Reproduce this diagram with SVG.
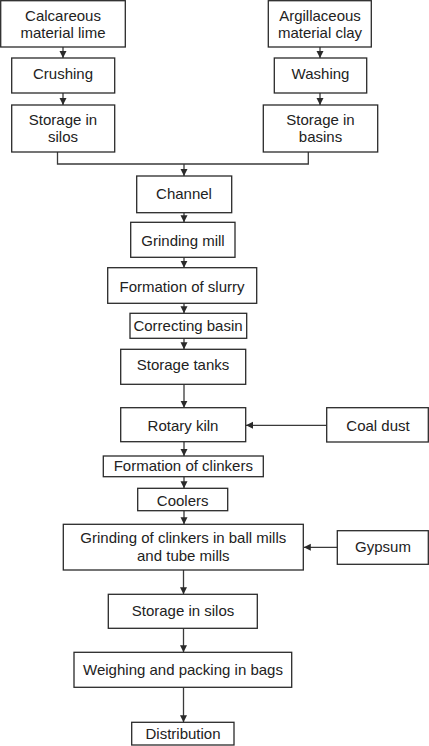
<svg xmlns="http://www.w3.org/2000/svg" width="429" height="746" viewBox="0 0 429 746">
<defs>
<style>
rect{fill:#fff;stroke:#2a2a2a;stroke-width:1.3}
text{font-family:"Liberation Sans",Arial,sans-serif;font-size:15px;fill:#222;text-anchor:middle}
.c{fill:none;stroke:#3a3a3a;stroke-width:1.3}
</style>
<marker id="ah" markerUnits="userSpaceOnUse" markerWidth="8" markerHeight="8" refX="7" refY="3.5" orient="auto">
<path d="M0,0 L7,3.5 L0,7 z" fill="#2a2a2a"/>
</marker>
</defs>
<rect x="0" y="0" width="429" height="746" style="fill:#fff;stroke:none"/>
<g id="connectors">
<path class="c" d="M63,47 V58" marker-end="url(#ah)"/>
<path class="c" d="M63,93 V105" marker-end="url(#ah)"/>
<path class="c" d="M320,47 V58" marker-end="url(#ah)"/>
<path class="c" d="M320,93 V105" marker-end="url(#ah)"/>
<path class="c" d="M57.5,152 V164 H308.3 V152"/>
<path class="c" d="M184,164 V176" marker-end="url(#ah)"/>
<path class="c" d="M184,212.7 V222.3" marker-end="url(#ah)"/>
<path class="c" d="M184,257.3 V267.7" marker-end="url(#ah)"/>
<path class="c" d="M184,303.3 V313.3" marker-end="url(#ah)"/>
<path class="c" d="M184,338.3 V349.3" marker-end="url(#ah)"/>
<path class="c" d="M184,384.3 V407.7" marker-end="url(#ah)"/>
<path class="c" d="M326.7,425.3 H246" marker-end="url(#ah)"/>
<path class="c" d="M184,441.7 V456" marker-end="url(#ah)"/>
<path class="c" d="M184,476.7 V488.3" marker-end="url(#ah)"/>
<path class="c" d="M184,510.7 V524.3" marker-end="url(#ah)"/>
<path class="c" d="M337.3,547.3 H303.8" marker-end="url(#ah)"/>
<path class="c" d="M183.5,570 V594.3" marker-end="url(#ah)"/>
<path class="c" d="M183.5,628.3 V652.3" marker-end="url(#ah)"/>
<path class="c" d="M183.5,687.3 V722.3" marker-end="url(#ah)"/>
</g>
<g id="calcareous"><rect x="0.7" y="0.7" width="124.6" height="46.3"/><text x="63" y="20.5">Calcareous</text><text x="63" y="37.5">material lime</text></g>
<g id="crushing"><rect x="11.7" y="58" width="103" height="35"/><text x="63" y="78.5">Crushing</text></g>
<g id="storage-silos-left"><rect x="11.7" y="105" width="103" height="47"/><text x="63" y="125">Storage in</text><text x="63" y="142">silos</text></g>
<g id="argillaceous"><rect x="268.3" y="0.7" width="103" height="46.3"/><text x="320" y="20.5">Argillaceous</text><text x="320" y="37.5">material clay</text></g>
<g id="washing"><rect x="274.3" y="58" width="92.4" height="35"/><text x="320.5" y="78.5">Washing</text></g>
<g id="storage-basins"><rect x="263.3" y="105" width="114.4" height="47"/><text x="320.5" y="125">Storage in</text><text x="320.5" y="142">basins</text></g>
<g id="channel"><rect x="136.7" y="176" width="95" height="36.7"/><text x="184" y="199">Channel</text></g>
<g id="grinding-mill"><rect x="130.7" y="222.3" width="104.3" height="35"/><text x="183" y="245.5">Grinding mill</text></g>
<g id="slurry"><rect x="107.7" y="267.7" width="149" height="35.6"/><text x="182" y="291.5">Formation of slurry</text></g>
<g id="correcting"><rect x="130" y="313.3" width="116.7" height="25"/><text x="188" y="331">Correcting basin</text></g>
<g id="storage-tanks"><rect x="120.7" y="349.3" width="125" height="35"/><text x="183" y="369.5">Storage tanks</text></g>
<g id="rotary-kiln"><rect x="120.7" y="407.7" width="125" height="34"/><text x="183" y="430.5">Rotary kiln</text></g>
<g id="coal-dust"><rect x="326.7" y="407.7" width="101.6" height="34.3"/><text x="378" y="430.5">Coal dust</text></g>
<g id="clinkers"><rect x="103.3" y="456" width="160" height="20.7"/><text x="183.3" y="471">Formation of clinkers</text></g>
<g id="coolers"><rect x="137.7" y="488.3" width="90" height="22.4"/><text x="182.7" y="505.7">Coolers</text></g>
<g id="grinding-clinkers"><rect x="63.3" y="524.3" width="240" height="45.7"/><text x="183.3" y="543.3">Grinding of clinkers in ball mills</text><text x="183.3" y="561">and tube mills</text></g>
<g id="gypsum"><rect x="337.3" y="530.7" width="91" height="33.6"/><text x="383" y="552">Gypsum</text></g>
<g id="storage-silos"><rect x="108.3" y="594.3" width="149" height="34"/><text x="183" y="615.5">Storage in silos</text></g>
<g id="weighing"><rect x="74" y="652.3" width="217.7" height="35"/><text x="183" y="674.5">Weighing and packing in bags</text></g>
<g id="distribution"><rect x="131.7" y="722.3" width="102.3" height="22.7"/><text x="183" y="738.5">Distribution</text></g>
</svg>
